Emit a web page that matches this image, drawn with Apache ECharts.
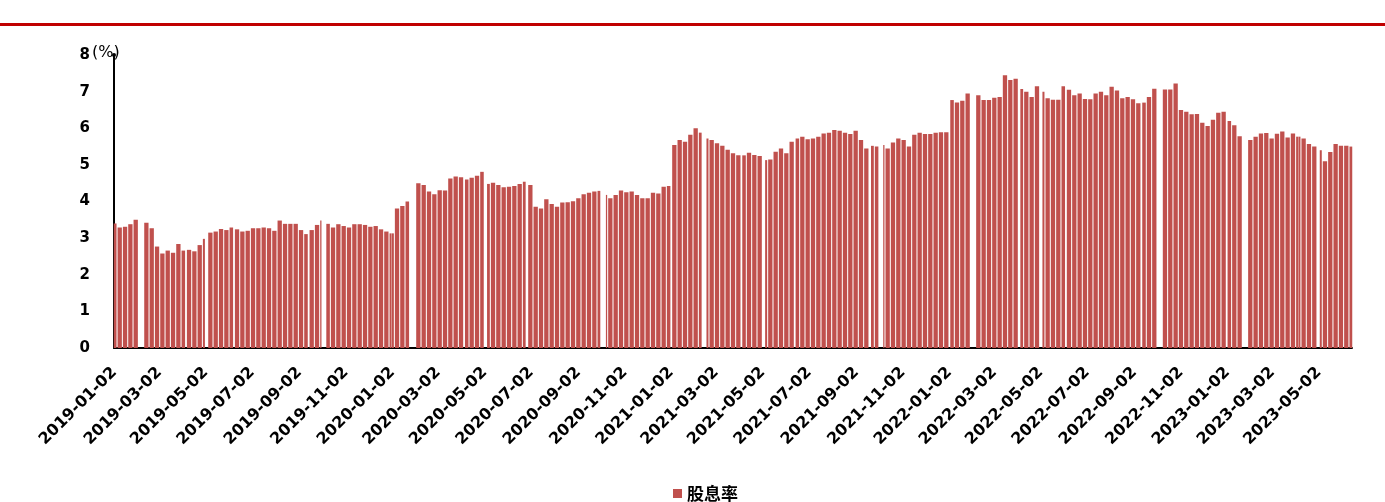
<!DOCTYPE html>
<html>
<head>
<meta charset="utf-8">
<script src="https://cdn.jsdelivr.net/npm/echarts@6/dist/echarts.min.js"></script>
<style>
  html, body { margin: 0; padding: 0; background: #ffffff; }
  #chart { width: 1385px; height: 502px; }
</style>
</head>
<body>
<div id="chart"></div>
<script>
// Dividend yield (%), one value per trading week; weeks start on Monday,
// the first week being the one that contains 2019-01-02. null = market closed all week.
const seriesName = '股息率';
const firstDay = '2019-01-02';
const lastDay = '2023-06-14';

const weeks2019 = [
  3.40, 3.29, 3.31, 3.38, 3.50, null, 3.42, 3.27, 2.77, 2.58,
  2.66, 2.60, 2.84, 2.66, 2.68, 2.64, 2.81, 2.98, 3.15, 3.18,
  3.25, 3.22, 3.29, 3.24, 3.18, 3.20, 3.27, 3.27, 3.29, 3.27,
  3.20, 3.48, 3.39, 3.39, 3.39, 3.22, 3.11, 3.22, 3.36, 3.48,
  3.39, 3.29, 3.38, 3.33, 3.29, 3.38, 3.38, 3.36, 3.31, 3.33,
  3.24, 3.18
];
const weeks2020 = [
  3.13, 3.81, 3.88, 4.00, null, 4.50, 4.45, 4.27, 4.20, 4.31,
  4.30, 4.63, 4.68, 4.66, 4.60, 4.65, 4.70, 4.81, 4.48, 4.51,
  4.45, 4.39, 4.40, 4.42, 4.48, 4.54, 4.45, 3.86, 3.81, 4.06,
  3.93, 3.86, 3.97, 3.98, 4.01, 4.09, 4.20, 4.24, 4.27, 4.29,
  4.18, 4.09, 4.18, 4.30, 4.25, 4.27, 4.18, 4.09, 4.09, 4.24,
  4.22, 4.40
];
const weeks2021 = [
  4.42, 5.54, 5.68, 5.63, 5.82, 6.00, 5.88, 5.72, 5.68, 5.59,
  5.52, 5.41, 5.32, 5.26, 5.26, 5.33, 5.27, 5.24, 5.13, 5.15,
  5.36, 5.45, 5.32, 5.63, 5.72, 5.77, 5.70, 5.72, 5.77, 5.86,
  5.88, 5.95, 5.93, 5.88, 5.84, 5.93, 5.68, 5.45, 5.52, 5.50,
  5.54, 5.45, 5.61, 5.72, 5.68, 5.50, 5.82, 5.88, 5.84, 5.84,
  5.88, 5.89
];
const weeks2022 = [
  5.89, 6.77, 6.70, 6.75, 6.95, null, 6.90, 6.77, 6.77, 6.83,
  6.85, 7.45, 7.32, 7.35, 7.07, 7.00, 6.85, 7.15, 7.00, 6.82,
  6.78, 6.78, 7.15, 7.05, 6.90, 6.95, 6.80, 6.79, 6.95, 7.00,
  6.90, 7.13, 7.03, 6.82, 6.85, 6.79, 6.68, 6.70, 6.85, 7.08,
  null, 7.06, 7.06, 7.22, 6.50, 6.45, 6.38, 6.39, 6.15, 6.06,
  6.23, 6.42
];
const weeks2023 = [
  6.45, 6.20, 6.08, 5.78, null, 5.68, 5.77, 5.86, 5.87, 5.72,
  5.85, 5.91, 5.75, 5.86, 5.77, 5.72, 5.57, 5.50, 5.40, 5.10,
  5.35, 5.57, 5.52, 5.52, 5.50
];

// Exchange holidays falling on weekdays (inclusive ranges)
const marketHolidays = [
  ['2019-02-04', '2019-02-08'], ['2019-04-05', '2019-04-05'], ['2019-05-01', '2019-05-03'],
  ['2019-06-07', '2019-06-07'], ['2019-09-13', '2019-09-13'], ['2019-10-01', '2019-10-07'],
  ['2020-01-01', '2020-01-01'], ['2020-01-24', '2020-01-31'], ['2020-04-06', '2020-04-06'],
  ['2020-05-01', '2020-05-05'], ['2020-06-25', '2020-06-26'], ['2020-10-01', '2020-10-08'],
  ['2021-01-01', '2021-01-01'], ['2021-02-11', '2021-02-17'], ['2021-04-05', '2021-04-05'],
  ['2021-05-03', '2021-05-05'], ['2021-06-14', '2021-06-14'], ['2021-09-20', '2021-09-21'],
  ['2021-10-01', '2021-10-07'], ['2022-01-03', '2022-01-03'], ['2022-01-31', '2022-02-04'],
  ['2022-04-04', '2022-04-05'], ['2022-05-02', '2022-05-04'], ['2022-06-03', '2022-06-03'],
  ['2022-09-12', '2022-09-12'], ['2022-10-03', '2022-10-07'], ['2023-01-02', '2023-01-02'],
  ['2023-01-23', '2023-01-27'], ['2023-04-05', '2023-04-05'], ['2023-05-01', '2023-05-03']
];

// Date tick labels along the x axis
const tickLabels = [
  '2019-01-02', '2019-03-02', '2019-05-02', '2019-07-02', '2019-09-02', '2019-11-02',
  '2020-01-02', '2020-03-02', '2020-05-02', '2020-07-02', '2020-09-02', '2020-11-02',
  '2021-01-02', '2021-03-02', '2021-05-02', '2021-07-02', '2021-09-02', '2021-11-02',
  '2022-01-02', '2022-03-02', '2022-05-02', '2022-07-02', '2022-09-02', '2022-11-02',
  '2023-01-02', '2023-03-02', '2023-05-02'
];

const barColor = '#C0504D';
const DAY = 86400000;
const toTs = s => Date.parse(s + 'T00:00:00Z');
const pad = n => (n < 10 ? '0' : '') + n;
const fmtDate = ts => {
  const d = new Date(Math.round(ts / DAY) * DAY);
  return d.getUTCFullYear() + '-' + pad(d.getUTCMonth() + 1) + '-' + pad(d.getUTCDate());
};

const weeklyYield = [].concat(weeks2019, weeks2020, weeks2021, weeks2022, weeks2023);

// Trading calendar: weekdays that are not exchange holidays
const closed = new Set();
marketHolidays.forEach(([a, b]) => {
  for (let t = toTs(a); t <= toTs(b); t += DAY) closed.add(t);
});
const t0 = toTs(firstDay), t1 = toTs(lastDay);

// Runs of consecutive trading days inside one week share that week's value
const runs = [];
let cur = null;
for (let t = t0; t <= t1; t += DAY) {
  const dow = new Date(t).getUTCDay();
  const trading = dow !== 0 && dow !== 6 && !closed.has(t);
  const week = Math.floor(((t - t0) / DAY + 2) / 7);
  if (trading) {
    if (cur && cur.week === week && cur.end === t - DAY) {
      cur.end = t;
    } else {
      cur = { week: week, start: t, end: t };
      runs.push(cur);
    }
  }
}
const barData = runs
  .filter(r => weeklyYield[r.week] != null)
  .map(r => [r.start - DAY / 2, r.end + DAY / 2, weeklyYield[r.week]]);

const chart = echarts.init(document.getElementById('chart'), null, { renderer: 'canvas' });

chart.setOption({
  animation: false,
  backgroundColor: '#ffffff',
  grid: { left: 114, right: 33, top: 55, bottom: 154, containLabel: false },
  xAxis: {
    type: 'value',
    min: t0 - DAY / 2,
    max: t1 + DAY / 2,
    axisLine: { show: true, lineStyle: { color: '#000000', width: 2 } },
    axisTick: { show: false },
    splitLine: { show: false },
    axisLabel: {
      customValues: tickLabels.map(toTs),
      formatter: v => fmtDate(v),
      rotate: 45,
      margin: 22,
      color: '#000000',
      fontFamily: 'DejaVu Sans',
      fontWeight: 'bold',
      fontSize: 16,
      hideOverlap: false
    }
  },
  yAxis: {
    type: 'value',
    min: 0,
    max: 8,
    interval: 1,
    axisLine: {
      show: true,
      symbol: ['none', 'circle'],
      symbolSize: [4, 4],
      lineStyle: { color: '#000000', width: 2 }
    },
    axisTick: { show: false },
    splitLine: { show: false },
    axisLabel: {
      margin: 24,
      color: '#000000',
      fontFamily: 'DejaVu Sans',
      fontWeight: 'bold',
      fontSize: 15
    }
  },
  legend: {
    data: [{ name: seriesName, icon: 'rect' }],
    left: 668,
    top: 480,
    itemWidth: 9,
    itemHeight: 9,
    itemGap: 6,
    textStyle: { color: '#000000', fontSize: 17, fontWeight: 'bold', fontFamily: 'Noto Sans CJK SC' }
  },
  graphic: [
    { type: 'rect', left: 0, top: 23, shape: { width: 1385, height: 3 }, style: { fill: '#C00000' }, silent: true },
    { type: 'text', left: 92, top: 45, style: { text: '(%)', fill: '#000000', font: '16px "DejaVu Sans"' }, silent: true }
  ],
  series: [{
    name: seriesName,
    type: 'custom',
    itemStyle: { color: barColor },
    encode: { x: [0, 1], y: 2 },
    data: barData,
    renderItem: (params, api) => {
      const topLeft = api.coord([api.value(0), api.value(2)]);
      const bottomRight = api.coord([api.value(1), 0]);
      // widen each run slightly so weekend gaps read as thin hairlines
      const left = topLeft[0] - 0.25;
      const right = bottomRight[0] + 0.25;
      return {
        type: 'rect',
        shape: {
          x: left,
          y: topLeft[1],
          width: right - left,
          height: bottomRight[1] - topLeft[1]
        },
        style: { fill: barColor }
      };
    }
  }]
});
</script>
</body>
</html>
